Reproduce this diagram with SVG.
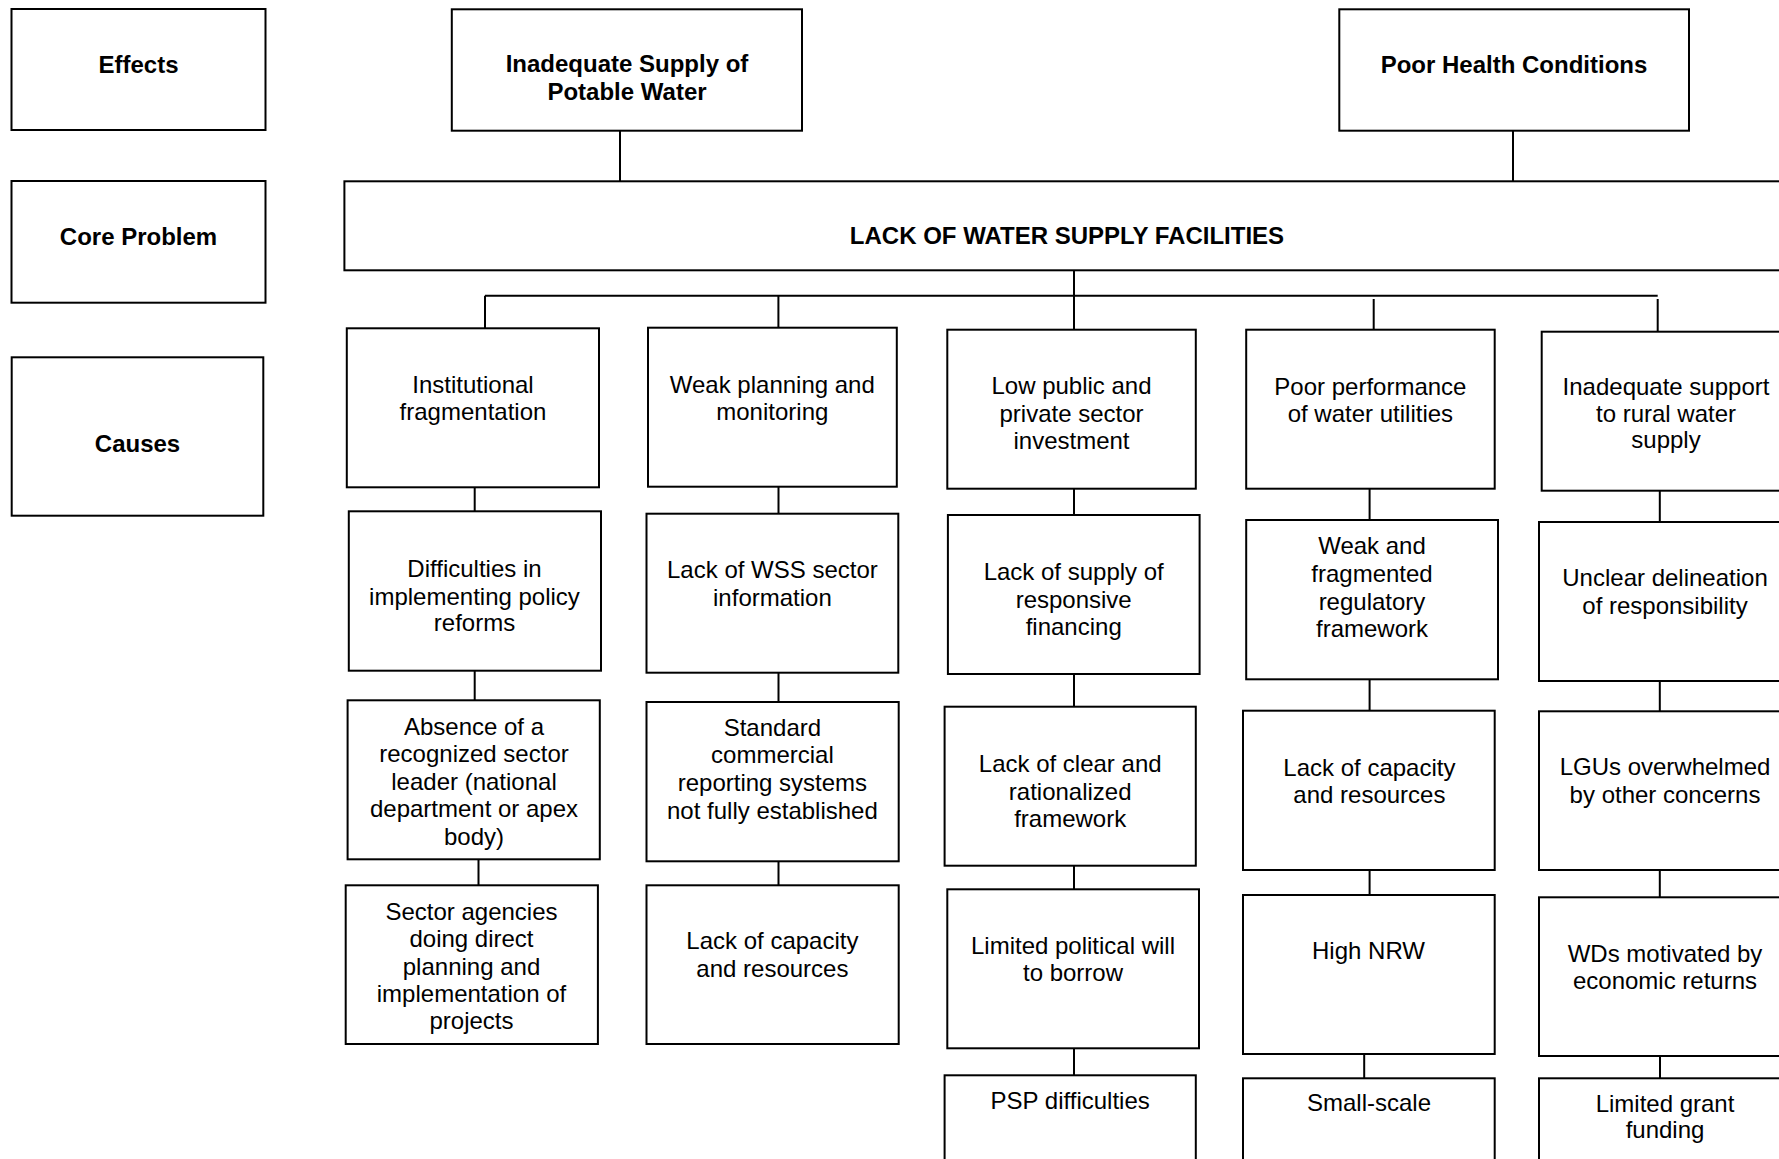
<svg xmlns="http://www.w3.org/2000/svg" width="1779" height="1159" viewBox="0 0 1779 1159">
<style>
  rect.box { fill: #fff; stroke: #000; stroke-width: 2; }
  .conn line { stroke: #000; stroke-width: 2; }
  text { font-family: "Liberation Sans", Arial, sans-serif; font-size: 24px; fill: #000; text-anchor: middle; }
  text.b { font-weight: bold; }
</style>
<rect x="0" y="0" width="1779" height="1159" fill="#fff"/>

<g id="connectors" class="conn">
  <line x1="620" y1="130.7" x2="620" y2="181.3"/>
  <line x1="1513" y1="130.7" x2="1513" y2="181.3"/>
  <line x1="1074" y1="270.3" x2="1074" y2="329.7"/>
  <line x1="485" y1="295.7" x2="1657.7" y2="295.7"/>
  <line x1="485" y1="295.7" x2="485" y2="328.3"/>
  <line x1="778.4" y1="295.7" x2="778.4" y2="327.7"/>
  <line x1="1373.7" y1="299" x2="1373.7" y2="329.7"/>
  <line x1="1657.7" y1="299" x2="1657.7" y2="331.7"/>
  <!-- column 1 -->
  <line x1="474.7" y1="487.3" x2="474.7" y2="511.3"/>
  <line x1="474.7" y1="670.7" x2="474.7" y2="700.3"/>
  <line x1="478.5" y1="859.3" x2="478.5" y2="885.3"/>
  <!-- column 2 -->
  <line x1="778.5" y1="486.7" x2="778.5" y2="513.7"/>
  <line x1="778.5" y1="672.7" x2="778.5" y2="702"/>
  <line x1="778.5" y1="861.3" x2="778.5" y2="885.3"/>
  <!-- column 3 -->
  <line x1="1074" y1="488.7" x2="1074" y2="515"/>
  <line x1="1074" y1="674" x2="1074" y2="706.7"/>
  <line x1="1074" y1="865.7" x2="1074" y2="889.3"/>
  <line x1="1074" y1="1048.3" x2="1074" y2="1075.3"/>
  <!-- column 4 -->
  <line x1="1369.6" y1="488.7" x2="1369.6" y2="520"/>
  <line x1="1369.6" y1="679.3" x2="1369.6" y2="710.7"/>
  <line x1="1369.6" y1="870" x2="1369.6" y2="895"/>
  <line x1="1364.2" y1="1054" x2="1364.2" y2="1078.3"/>
  <!-- column 5 -->
  <line x1="1659.8" y1="490.7" x2="1659.8" y2="522"/>
  <line x1="1659.8" y1="681" x2="1659.8" y2="711.3"/>
  <line x1="1659.8" y1="870" x2="1659.8" y2="897.3"/>
  <line x1="1660" y1="1056" x2="1660" y2="1078.3"/>
</g>

<g id="label-effects"><rect class="box" x="11.5" y="9" width="254" height="121"/><text class="b" x="138.5" y="72.5">Effects</text></g>
<g id="label-core"><rect class="box" x="11.5" y="181" width="254" height="121.7"/><text class="b" x="138.5" y="245">Core Problem</text></g>
<g id="label-causes"><rect class="box" x="11.7" y="357.3" width="251.6" height="158.4"/><text class="b" x="137.5" y="451.7">Causes</text></g>

<g id="effect-water"><rect class="box" x="451.8" y="9.3" width="350.2" height="121.4"/><text class="b" x="627" y="72">Inadequate Supply of</text><text class="b" x="627" y="100">Potable Water</text></g>
<g id="effect-health"><rect class="box" x="1339.3" y="9.3" width="349.7" height="121.4"/><text class="b" x="1514" y="72.5">Poor Health Conditions</text></g>

<g id="core"><rect class="box" x="344.4" y="181.3" width="1446" height="89"/><text class="b" x="1067" y="244.3">LACK OF WATER SUPPLY FACILITIES</text></g>

<!-- column 1 -->
<g id="c1-1"><rect class="box" x="346.8" y="328.3" width="252.2" height="159"/><text x="473" y="392.5">Institutional</text><text x="473" y="420">fragmentation</text></g>
<g id="c1-2"><rect class="box" x="348.8" y="511.3" width="252.2" height="159.4"/><text x="474.5" y="577">Difficulties in</text><text x="474.5" y="604.5">implementing policy</text><text x="474.5" y="631">reforms</text></g>
<g id="c1-3"><rect class="box" x="347.6" y="700.3" width="252.2" height="159"/><text x="474" y="734.5">Absence of a</text><text x="474" y="762">recognized sector</text><text x="474" y="789.5">leader (national</text><text x="474" y="817">department or apex</text><text x="474" y="844.5">body)</text></g>
<g id="c1-4"><rect class="box" x="345.7" y="885.3" width="252.2" height="158.7"/><text x="471.5" y="919.5">Sector agencies</text><text x="471.5" y="947">doing direct</text><text x="471.5" y="974.5">planning and</text><text x="471.5" y="1002">implementation of</text><text x="471.5" y="1029">projects</text></g>

<!-- column 2 -->
<g id="c2-1"><rect class="box" x="648" y="327.7" width="248.8" height="159"/><text x="772.3" y="392.5">Weak planning and</text><text x="772.3" y="420">monitoring</text></g>
<g id="c2-2"><rect class="box" x="646.5" y="513.7" width="251.8" height="159"/><text x="772.4" y="578">Lack of WSS sector</text><text x="772.4" y="605.5">information</text></g>
<g id="c2-3"><rect class="box" x="646.5" y="702" width="252.2" height="159.3"/><text x="772.4" y="736">Standard</text><text x="772.4" y="763">commercial</text><text x="772.4" y="791">reporting systems</text><text x="772.4" y="818.5">not fully established</text></g>
<g id="c2-4"><rect class="box" x="646.5" y="885.3" width="252.2" height="158.7"/><text x="772.4" y="949">Lack of capacity</text><text x="772.4" y="976.5">and resources</text></g>

<!-- column 3 -->
<g id="c3-1"><rect class="box" x="947.3" y="329.7" width="248.5" height="159"/><text x="1071.5" y="394">Low public and</text><text x="1071.5" y="422">private sector</text><text x="1071.5" y="449">investment</text></g>
<g id="c3-2"><rect class="box" x="947.9" y="515" width="251.7" height="159"/><text x="1073.7" y="580">Lack of supply of</text><text x="1073.7" y="608">responsive</text><text x="1073.7" y="635">financing</text></g>
<g id="c3-3"><rect class="box" x="944.6" y="706.7" width="251.2" height="159"/><text x="1070.2" y="772">Lack of clear and</text><text x="1070.2" y="799.5">rationalized</text><text x="1070.2" y="827">framework</text></g>
<g id="c3-4"><rect class="box" x="947.3" y="889.3" width="251.7" height="159"/><text x="1073" y="953.5">Limited political will</text><text x="1073" y="981">to borrow</text></g>
<g id="c3-5"><rect class="box" x="944.6" y="1075.3" width="251.2" height="110"/><text x="1070.2" y="1108.5">PSP difficulties</text></g>

<!-- column 4 -->
<g id="c4-1"><rect class="box" x="1246.2" y="329.7" width="248.5" height="159"/><text x="1370.4" y="394.5">Poor performance</text><text x="1370.4" y="422">of water utilities</text></g>
<g id="c4-2"><rect class="box" x="1246.2" y="520" width="251.8" height="159.3"/><text x="1372" y="554">Weak and</text><text x="1372" y="582">fragmented</text><text x="1372" y="610">regulatory</text><text x="1372" y="637">framework</text></g>
<g id="c4-3"><rect class="box" x="1243" y="710.7" width="251.7" height="159.3"/><text x="1369.4" y="776">Lack of capacity</text><text x="1369.4" y="803">and resources</text></g>
<g id="c4-4"><rect class="box" x="1243" y="895" width="251.7" height="159"/><text x="1368.5" y="958.5">High NRW</text></g>
<g id="c4-5"><rect class="box" x="1243" y="1078.3" width="251.7" height="110"/><text x="1369" y="1111">Small-scale</text></g>

<!-- column 5 -->
<g id="c5-1"><rect class="box" x="1541.7" y="331.7" width="249.3" height="159"/><text x="1666" y="395">Inadequate support</text><text x="1666" y="421.7">to rural water</text><text x="1666" y="448.3">supply</text></g>
<g id="c5-2"><rect class="box" x="1539" y="522" width="252" height="159"/><text x="1665" y="586">Unclear delineation</text><text x="1665" y="613.5">of responsibility</text></g>
<g id="c5-3"><rect class="box" x="1539" y="711.3" width="252" height="158.7"/><text x="1665" y="775">LGUs overwhelmed</text><text x="1665" y="803">by other concerns</text></g>
<g id="c5-4"><rect class="box" x="1539" y="897.3" width="252" height="158.7"/><text x="1665" y="962">WDs motivated by</text><text x="1665" y="988.5">economic returns</text></g>
<g id="c5-5"><rect class="box" x="1539" y="1078.3" width="252" height="110"/><text x="1665" y="1111.7">Limited grant</text><text x="1665" y="1138.3">funding</text></g>
</svg>
